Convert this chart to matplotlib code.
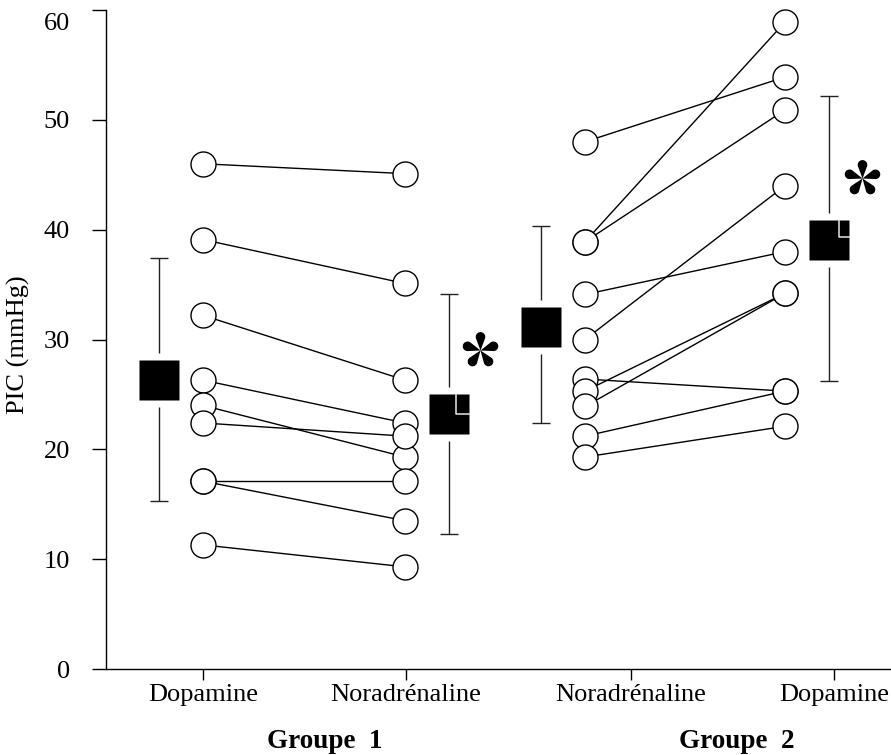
import numpy as np
import matplotlib
matplotlib.use("Agg")
import matplotlib.pyplot as plt
import matplotlib.transforms as mtransforms
from matplotlib.path import Path

plt.rcParams['font.family'] = ['Liberation Serif', 'DejaVu Serif']

# Groupe 1 : dopamine puis noradrenaline (un patient par rang)
g1_dopa = [46.0, 39.1, 32.2, 26.3, 24.0, 22.4, 17.1, 17.1, 11.3]
g1_nora = [45.1, 35.1, 26.3, 22.4, 19.3, 21.2, 17.1, 13.5, 9.3]
# Groupe 2 : noradrenaline puis dopamine
g2_nora = [48.0, 38.9, 38.9, 34.1, 30.0, 26.4, 25.3, 23.9, 21.2, 19.3]
g2_dopa = [53.9, 58.9, 50.9, 38.0, 44.0, 25.3, 34.2, 34.2, 25.3, 22.1]

# moyennes et bornes des barres d'erreur
mean_vals = [26.3, 23.2, 31.1, 39.1]
err_low = [15.3, 12.3, 22.4, 26.2]
err_high = [37.4, 34.1, 40.3, 52.2]

tick_labels = ['Dopamine', 'Noradrénaline', 'Noradrénaline', 'Dopamine']
group_labels = ['Groupe  1', 'Groupe  2']

# mise en page (abscisses en pixels de la figure)
col_x = [203, 405, 585, 785]
mean_x = [159, 449, 541, 829]
tick_x = [203, 406, 631, 834]
group_x = [325, 737]
star_pos = [(479.5, 29.05), (861.5, 44.7)]
notch = [None, (0.07, 0.0), None, (0.10, 0.03)]


def teardrop_star(n=5, d=0.74, rc=0.26):
    """asterisque a petales en goutte (comme dans l'original)"""
    verts, codes = [], []
    alpha = np.arcsin(rc / d)
    phi = np.linspace(np.pi / 2 + alpha, -(np.pi / 2 + alpha), 30)
    for k in range(n):
        th = np.pi / 2 + k * 2 * np.pi / n
        px = d + rc * np.cos(phi)
        py = rc * np.sin(phi)
        pts = [(0.0, 0.0)] + list(zip(px, py)) + [(0.0, 0.0)]
        c, s = np.cos(th), np.sin(th)
        pts = [(x * c - y * s, x * s + y * c) for x, y in pts]
        verts += pts
        codes += [Path.MOVETO] + [Path.LINETO] * (len(pts) - 2) + [Path.CLOSEPOLY]
    return Path(verts, codes)


fig = plt.figure(figsize=(8.91, 7.55), dpi=100)
ax = fig.add_axes([106 / 891, 86 / 755, 785 / 891, 659 / 755])
ax.set_xlim(106, 891)
ax.set_ylim(0, 60)

pairs = [(g1_dopa, g1_nora, col_x[0], col_x[1]), (g2_nora, g2_dopa, col_x[2], col_x[3])]
for left, right, xa, xb in pairs:
    for a, b in zip(left, right):
        ax.plot([xa, xb], [a, b], color='black', lw=1.0, zorder=2, clip_on=False)
    ax.plot([xa] * len(left), left, 'o', ms=18, mfc='white', mec='black', mew=1.0,
            ls='none', zorder=3, clip_on=False)
    ax.plot([xb] * len(right), right, 'o', ms=18, mfc='white', mec='black', mew=1.0,
            ls='none', zorder=3, clip_on=False)

for i, m in enumerate(mean_vals):
    x = mean_x[i]
    ax.errorbar([x], [m], yerr=[[m - err_low[i]], [err_high[i] - m]], fmt='none',
                ecolor='#222222', elinewidth=1.0, capsize=6.5, capthick=1.0, zorder=2)
    ax.plot([x], [m], 's', ms=39.5, mfc='white', mec='none', zorder=4)
    ax.plot([x], [m], 's', ms=29.5, mfc='black', mec='none', zorder=5)
    if notch[i]:
        nx, ny = notch[i]
        tr = fig.dpi_scale_trans + mtransforms.ScaledTranslation(x, m, ax.transData)
        ax.plot([nx, nx, 0.205], [0.205, ny, ny], color='#e8e8e8', lw=1.1,
                transform=tr, zorder=6, solid_capstyle='butt')

star = teardrop_star()
for sx, sy in star_pos:
    ax.plot([sx], [sy], marker=star, ms=26.5, mfc='black', mec='none', ls='none',
            zorder=5, clip_on=False)

for s in ['top', 'right']:
    ax.spines[s].set_visible(False)
for s in ['left', 'bottom']:
    ax.spines[s].set_linewidth(1.0)

ax.set_yticks(range(0, 70, 10))
ax.tick_params(axis='y', length=10, width=1.0, pad=16, labelsize=19)
ax.set_xticks(tick_x, tick_labels)
ax.tick_params(axis='x', length=8, width=1.0, pad=3, labelsize=19)

fig.text(18 / 891, 1 - 345 / 755, 'PIC (mmHg)', rotation=90, ha='center', va='center',
         fontsize=19)
for gx, lab in zip(group_x, group_labels):
    fig.text(gx / 891, 1 - 742 / 755, lab, ha='center', va='center', fontsize=19.5,
             fontweight='bold')

# l'etiquette 60 est un peu plus basse que sa graduation dans l'original
fig.canvas.draw()
top_lab = ax.yaxis.get_major_ticks()[-1].label1
top_lab.set_transform(top_lab.get_transform() +
                      mtransforms.ScaledTranslation(0, -0.12, fig.dpi_scale_trans))

fig.savefig('out.png', dpi=100)
